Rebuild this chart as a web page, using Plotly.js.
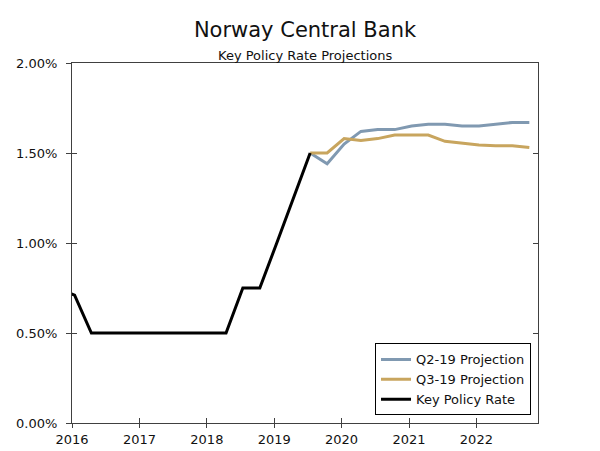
<!DOCTYPE html>
<html>
<head>
<meta charset="utf-8">
<script src="https://cdn.plot.ly/plotly-3.0.1.min.js"></script>
<style>html,body{margin:0;padding:0;background:#fff;}#chart{width:600px;height:451px;}</style>
</head>
<body>
<div id="chart"></div>
<script>
// Key policy rate (quarterly points)
var policyDates = ['2015-10-15','2016-01-15','2016-04-15','2016-07-15','2016-10-15','2017-01-15','2017-04-15','2017-07-15','2017-10-15','2018-01-15','2018-04-15','2018-07-15','2018-10-15','2019-01-15','2019-04-15','2019-07-15'];
var policyRate  = [0.75, 0.71, 0.50, 0.50, 0.50, 0.50, 0.50, 0.50, 0.50, 0.50, 0.50, 0.75, 0.75, 1.00, 1.25, 1.50];

// Projections
var projDates = ['2019-07-15','2019-10-15','2020-01-15','2020-04-15','2020-07-15','2020-10-15','2021-01-15','2021-04-15','2021-07-15','2021-10-15','2022-01-15','2022-04-15','2022-07-15','2022-10-15'];
var q2Proj = [1.50, 1.44, 1.55, 1.62, 1.63, 1.63, 1.65, 1.66, 1.66, 1.65, 1.65, 1.66, 1.67, 1.67];
var q3Proj = [1.50, 1.50, 1.58, 1.57, 1.58, 1.60, 1.60, 1.60, 1.565, 1.555, 1.545, 1.54, 1.54, 1.53];

var xTicks = ['2016-01-01','2017-01-01','2018-01-01','2019-01-01','2020-01-01','2021-01-01','2022-01-01'];
var xTickText = ['2016','2017','2018','2019','2020','2021','2022'];
var yTicks = [0, 0.5, 1.0, 1.5, 2.0];
var yTickText = ['0.00%','0.50%','1.00%','1.50%','2.00%'];

var xRange = ['2016-01-01','2022-12-01'];
var yRange = [0, 2];

var FONT = 'DejaVu Sans, Verdana, sans-serif';
var AX = '#404040';

// Traces are spread across overlaid (identical-range) axes so that the
// crossing "inside" tick marks of the reference are drawn by those axes.
var traces = [
  {x: projDates, y: q2Proj, name: 'Q2-19 Projection', mode: 'lines', line: {color: '#8099B1', width: 3}, xaxis: 'x', yaxis: 'y'},
  {x: projDates, y: q3Proj, name: 'Q3-19 Projection', mode: 'lines', line: {color: '#C8A55E', width: 3}, xaxis: 'x', yaxis: 'y4'},
  {x: policyDates, y: policyRate, name: 'Key Policy Rate', mode: 'lines', line: {color: '#000000', width: 3}, xaxis: 'x2', yaxis: 'y3'}
];

var baseX = {type: 'date', range: xRange, tickvals: xTicks, ticktext: xTickText, showgrid: false, zeroline: false,
  linecolor: AX, tickcolor: AX, tickwidth: 1, fixedrange: true};
var baseY = {range: yRange, tickvals: yTicks, ticktext: yTickText, showgrid: false, zeroline: false,
  linecolor: AX, tickcolor: AX, tickwidth: 1, fixedrange: true};

var layout = {
  width: 600, height: 451,
  paper_bgcolor: '#ffffff', plot_bgcolor: '#ffffff',
  margin: {l: 72, r: 62, t: 63, b: 28},
  font: {family: FONT, size: 13, color: '#111111'},
  title: {text: 'Norway Central Bank', font: {family: FONT, size: 21, color: '#111111'},
    x: 0.5, xref: 'paper', xanchor: 'center', y: 1 - 30/451, yref: 'container', yanchor: 'middle'},
  annotations: [{text: 'Key Policy Rate Projections', xref: 'paper', yref: 'paper', x: 0.5, y: 1,
    xanchor: 'center', yanchor: 'middle', yshift: 8, showarrow: false, font: {family: FONT, size: 13, color: '#111111'}}],
  showlegend: true,
  legend: {x: 0.985, y: 0.021, xanchor: 'right', yanchor: 'bottom', bgcolor: '#ffffff', bordercolor: '#000000', borderwidth: 1,
    font: {family: FONT, size: 13, color: '#111111'}, traceorder: 'normal'},
  xaxis: Object.assign({}, baseX, {showline: true, mirror: true, ticks: 'outside', ticklen: 4, tickfont: {size: 13}}),
  xaxis2: Object.assign({}, baseX, {overlaying: 'x', anchor: 'y3', side: 'bottom', showline: false, ticks: 'inside', ticklen: 5, showticklabels: false}),
  yaxis: Object.assign({}, baseY, {showline: true, mirror: true, ticks: 'outside', ticklen: 5, tickfont: {size: 13}, ticklabelstandoff: 6}),
  yaxis2: Object.assign({}, baseY, {overlaying: 'y', side: 'right', anchor: 'x', showline: true, ticks: 'outside', ticklen: 5, tickfont: {size: 13}, ticklabelstandoff: 6}),
  yaxis3: Object.assign({}, baseY, {overlaying: 'y', side: 'left', anchor: 'x2', showline: false, ticks: 'inside', ticklen: 5, showticklabels: false}),
  yaxis4: Object.assign({}, baseY, {overlaying: 'y', side: 'right', anchor: 'x', showline: false, ticks: 'inside', ticklen: 5, showticklabels: false})
};

Plotly.newPlot('chart', traces, layout, {displayModeBar: false, staticPlot: true});
</script>
</body>
</html>
